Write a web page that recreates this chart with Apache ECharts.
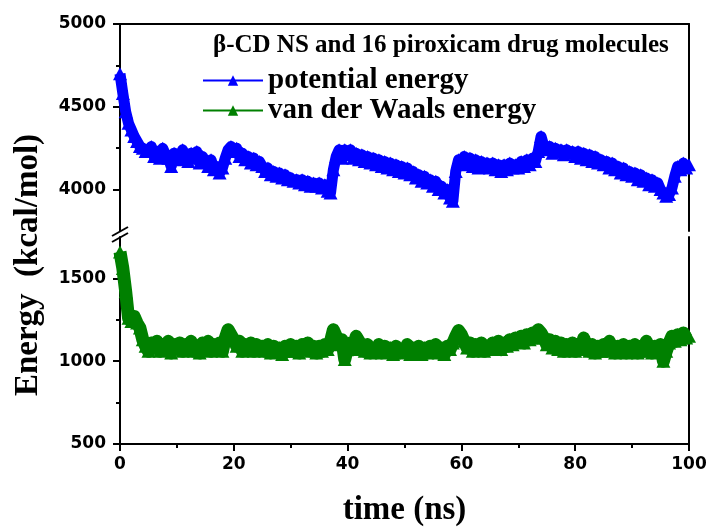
<!DOCTYPE html>
<html>
<head>
<meta charset="utf-8">
<script src="https://cdn.jsdelivr.net/npm/echarts@6/dist/echarts.min.js"></script>
<style>html,body{margin:0;padding:0;background:#fff}#main{width:708px;height:529px}</style>
</head>
<body>
<div id="main"></div>
<script>
// time (ns), one sample every 0.5 ns
var timeNs = [0,0.5,1,1.5,2,2.5,3,3.5,4,4.5,5,5.5,6,6.5,7,7.5,8,8.5,9,9.5,
  10,10.5,11,11.5,12,12.5,13,13.5,14,14.5,15,15.5,16,16.5,17,17.5,18,18.5,19,19.5,
  20,20.5,21,21.5,22,22.5,23,23.5,24,24.5,25,25.5,26,26.5,27,27.5,28,28.5,29,29.5,
  30,30.5,31,31.5,32,32.5,33,33.5,34,34.5,35,35.5,36,36.5,37,37.5,38,38.5,39,39.5,
  40,40.5,41,41.5,42,42.5,43,43.5,44,44.5,45,45.5,46,46.5,47,47.5,48,48.5,49,49.5,
  50,50.5,51,51.5,52,52.5,53,53.5,54,54.5,55,55.5,56,56.5,57,57.5,58,58.5,59,59.5,
  60,60.5,61,61.5,62,62.5,63,63.5,64,64.5,65,65.5,66,66.5,67,67.5,68,68.5,69,69.5,
  70,70.5,71,71.5,72,72.5,73,73.5,74,74.5,75,75.5,76,76.5,77,77.5,78,78.5,79,79.5,
  80,80.5,81,81.5,82,82.5,83,83.5,84,84.5,85,85.5,86,86.5,87,87.5,88,88.5,89,89.5,
  90,90.5,91,91.5,92,92.5,93,93.5,94,94.5,95,95.5,96,96.5,97,97.5,98,98.5,99,99.5,100];

var potentialEnergy = [
  4700,4580,4470,4400,4360,4320,4290,4260,4250,4230,
  4230,4260,4200,4230,4190,4250,4210,4190,4140,4220,
  4210,4180,4240,4200,4170,4220,4190,4230,4160,4200,
  4170,4140,4180,4120,4140,4100,4130,4190,4240,4260,
  4230,4250,4200,4220,4180,4200,4160,4190,4150,4170,
  4140,4110,4130,4090,4110,4080,4100,4070,4090,4060,
  4070,4050,4060,4040,4060,4030,4050,4020,4040,4020,
  4040,4010,4030,3990,3980,4120,4200,4240,4190,4240,
  4210,4240,4190,4220,4180,4210,4170,4200,4160,4190,
  4150,4180,4140,4170,4130,4160,4120,4150,4110,4140,
  4100,4130,4090,4110,4070,4090,4050,4080,4040,4060,
  4020,4050,4000,4020,3980,4000,3950,3930,4110,4180,
  4160,4200,4150,4190,4140,4180,4130,4170,4140,4160,
  4130,4160,4120,4150,4110,4150,4120,4160,4130,4150,
  4130,4170,4140,4180,4150,4190,4170,4230,4320,4260,
  4240,4260,4220,4250,4230,4240,4210,4240,4220,4230,
  4200,4230,4190,4220,4180,4210,4170,4200,4160,4180,
  4150,4170,4130,4160,4120,4140,4100,4130,4090,4110,
  4080,4100,4060,4090,4050,4070,4030,4060,4020,4040,
  4000,3980,3960,3970,4010,4080,4140,4120,4160,4130,
  4150];

var vdwEnergy = [
  1660,1560,1420,1260,1240,1270,1230,1200,1130,1090,
  1060,1110,1080,1120,1060,1100,1070,1120,1050,1100,
  1080,1110,1060,1100,1070,1120,1060,1090,1050,1110,
  1070,1120,1060,1100,1070,1110,1060,1140,1190,1160,
  1130,1090,1120,1060,1100,1070,1110,1060,1100,1070,
  1090,1060,1100,1050,1090,1060,1080,1040,1090,1060,
  1100,1060,1090,1050,1100,1070,1110,1060,1090,1050,
  1090,1060,1100,1070,1120,1190,1150,1100,1130,1010,
  1080,1110,1070,1150,1120,1090,1060,1100,1050,1080,
  1060,1100,1050,1090,1060,1080,1040,1090,1050,1070,
  1060,1100,1040,1080,1050,1090,1040,1080,1050,1090,
  1060,1100,1050,1080,1040,1090,1070,1110,1150,1185,
  1160,1120,1080,1110,1060,1100,1070,1110,1060,1090,
  1070,1110,1080,1120,1070,1110,1090,1130,1100,1140,
  1120,1150,1110,1160,1130,1170,1140,1190,1170,1140,
  1100,1130,1080,1120,1070,1110,1060,1100,1070,1110,
  1060,1100,1070,1140,1090,1060,1100,1050,1090,1060,
  1100,1060,1120,1070,1050,1090,1060,1100,1050,1090,
  1060,1100,1050,1090,1060,1120,1080,1050,1090,1060,
  1100,1000,1060,1110,1150,1120,1160,1130,1170,1140,
  1150];

var upperRange = [3750, 5000];
var upperLabels = [4000, 4500, 5000];
var upperMinor = [4250, 4750];
var lowerRange = [500, 1750];
var lowerLabels = [500, 1000, 1500];
var lowerMinor = [750, 1250];

var myChart = echarts.init(document.getElementById('main'));

function pairs(ys) {
  return timeNs.map(function (t, i) { return [t, ys[i]]; });
}

var black = { color: '#000', width: 2 };
var tickFont = { fontFamily: 'DejaVu Sans', fontWeight: 'bold', fontSize: 17, color: '#000',
  formatter: function (v) { return String(v); } };

// left axis with labelled ticks, left axis with minor ticks, right frame line
function yAxes(grid, range, labels, minor) {
  return [
    {
      type: 'value', gridIndex: grid, position: 'left', min: range[0], max: range[1], interval: 250,
      axisLine: { show: true, lineStyle: black },
      axisTick: { show: true, length: 7, lineStyle: black, customValues: labels },
      axisLabel: Object.assign({ margin: 14, customValues: labels }, tickFont),
      splitLine: { show: false }
    },
    {
      type: 'value', gridIndex: grid, position: 'left', min: range[0], max: range[1], interval: 250,
      axisLine: { show: false },
      axisTick: { show: true, length: 4, lineStyle: black, customValues: minor },
      axisLabel: { show: false },
      splitLine: { show: false }
    },
    {
      type: 'value', gridIndex: grid, position: 'right', min: range[0], max: range[1], interval: 250,
      axisLine: { show: true, lineStyle: black },
      axisTick: { show: false }, axisLabel: { show: false }, splitLine: { show: false }
    }
  ];
}

option = {
  animation: false,
  backgroundColor: '#fff',
  title: {
    text: '{a|β-CD NS and }{b|16}{a| piroxicam drug molecules}',
    left: 208, top: 28,
    textStyle: {
      rich: {
        a: { fontFamily: 'Liberation Serif', fontSize: 25, color: '#000' },
        b: { fontFamily: 'Liberation Serif', fontSize: 25, fontWeight: 'bold', color: '#000' }
      }
    }
  },
  legend: {
    orient: 'vertical',
    left: 197, top: 61,
    itemWidth: 60, itemHeight: 13, itemGap: 1,
    lineStyle: { width: 2 },
    textStyle: { fontFamily: 'Liberation Serif', fontWeight: 'bold', fontSize: 29, color: '#000' },
    data: ['potential energy', 'van der Waals energy']
  },
  grid: [
    { left: 120, right: 19, top: 24, height: 207, outerBoundsMode: 'none' },
    { left: 120, right: 19, top: 237, height: 207, outerBoundsMode: 'none' }
  ],
  xAxis: [
    {
      type: 'value', gridIndex: 0, position: 'top', min: 0, max: 100, interval: 20,
      axisLine: { show: true, lineStyle: black },
      axisTick: { show: false }, axisLabel: { show: false }, splitLine: { show: false }
    },
    {
      type: 'value', gridIndex: 1, position: 'bottom', min: 0, max: 100, interval: 20,
      name: 'time (ns)', nameLocation: 'middle', nameGap: 50,
      nameTextStyle: { fontFamily: 'Liberation Serif', fontWeight: 'bold', fontSize: 33, color: '#000' },
      axisLine: { show: true, lineStyle: black },
      axisTick: { show: true, length: 7, lineStyle: black },
      minorTick: { show: true, splitNumber: 2, length: 4, lineStyle: black },
      axisLabel: Object.assign({ margin: 12 }, tickFont),
      splitLine: { show: false }, minorSplitLine: { show: false }
    }
  ],
  yAxis: yAxes(0, upperRange, upperLabels, upperMinor).concat(yAxes(1, lowerRange, lowerLabels, lowerMinor)),
  graphic: [
    {
      type: 'text', x: 28, y: 265, rotation: Math.PI / 2,
      style: {
        text: 'Energy  (kcal/mol)', align: 'center', verticalAlign: 'middle',
        font: 'bold 33px "Liberation Serif"', fill: '#000'
      }
    },
    { type: 'line', shape: { x1: 112, y1: 236, x2: 128, y2: 227 }, style: { stroke: '#000', lineWidth: 2 } },
    { type: 'line', shape: { x1: 112, y1: 242, x2: 128, y2: 233 }, style: { stroke: '#000', lineWidth: 2 } }
  ],
  series: [
    {
      name: 'potential energy', type: 'line', xAxisIndex: 0, yAxisIndex: 0,
      symbol: 'triangle', symbolSize: [14, 13], showAllSymbol: true,
      color: '#0000ff', lineStyle: { width: 11, color: '#0000ff', join: 'round' },
      itemStyle: { color: '#0000ff' },
      data: pairs(potentialEnergy)
    },
    {
      name: 'van der Waals energy', type: 'line', xAxisIndex: 1, yAxisIndex: 3,
      symbol: 'triangle', symbolSize: [14, 13], showAllSymbol: true,
      color: '#008000', lineStyle: { width: 13, color: '#008000', join: 'round' },
      itemStyle: { color: '#008000' },
      data: pairs(vdwEnergy)
    }
  ]
};

myChart.setOption(option);
</script>
</body>
</html>
